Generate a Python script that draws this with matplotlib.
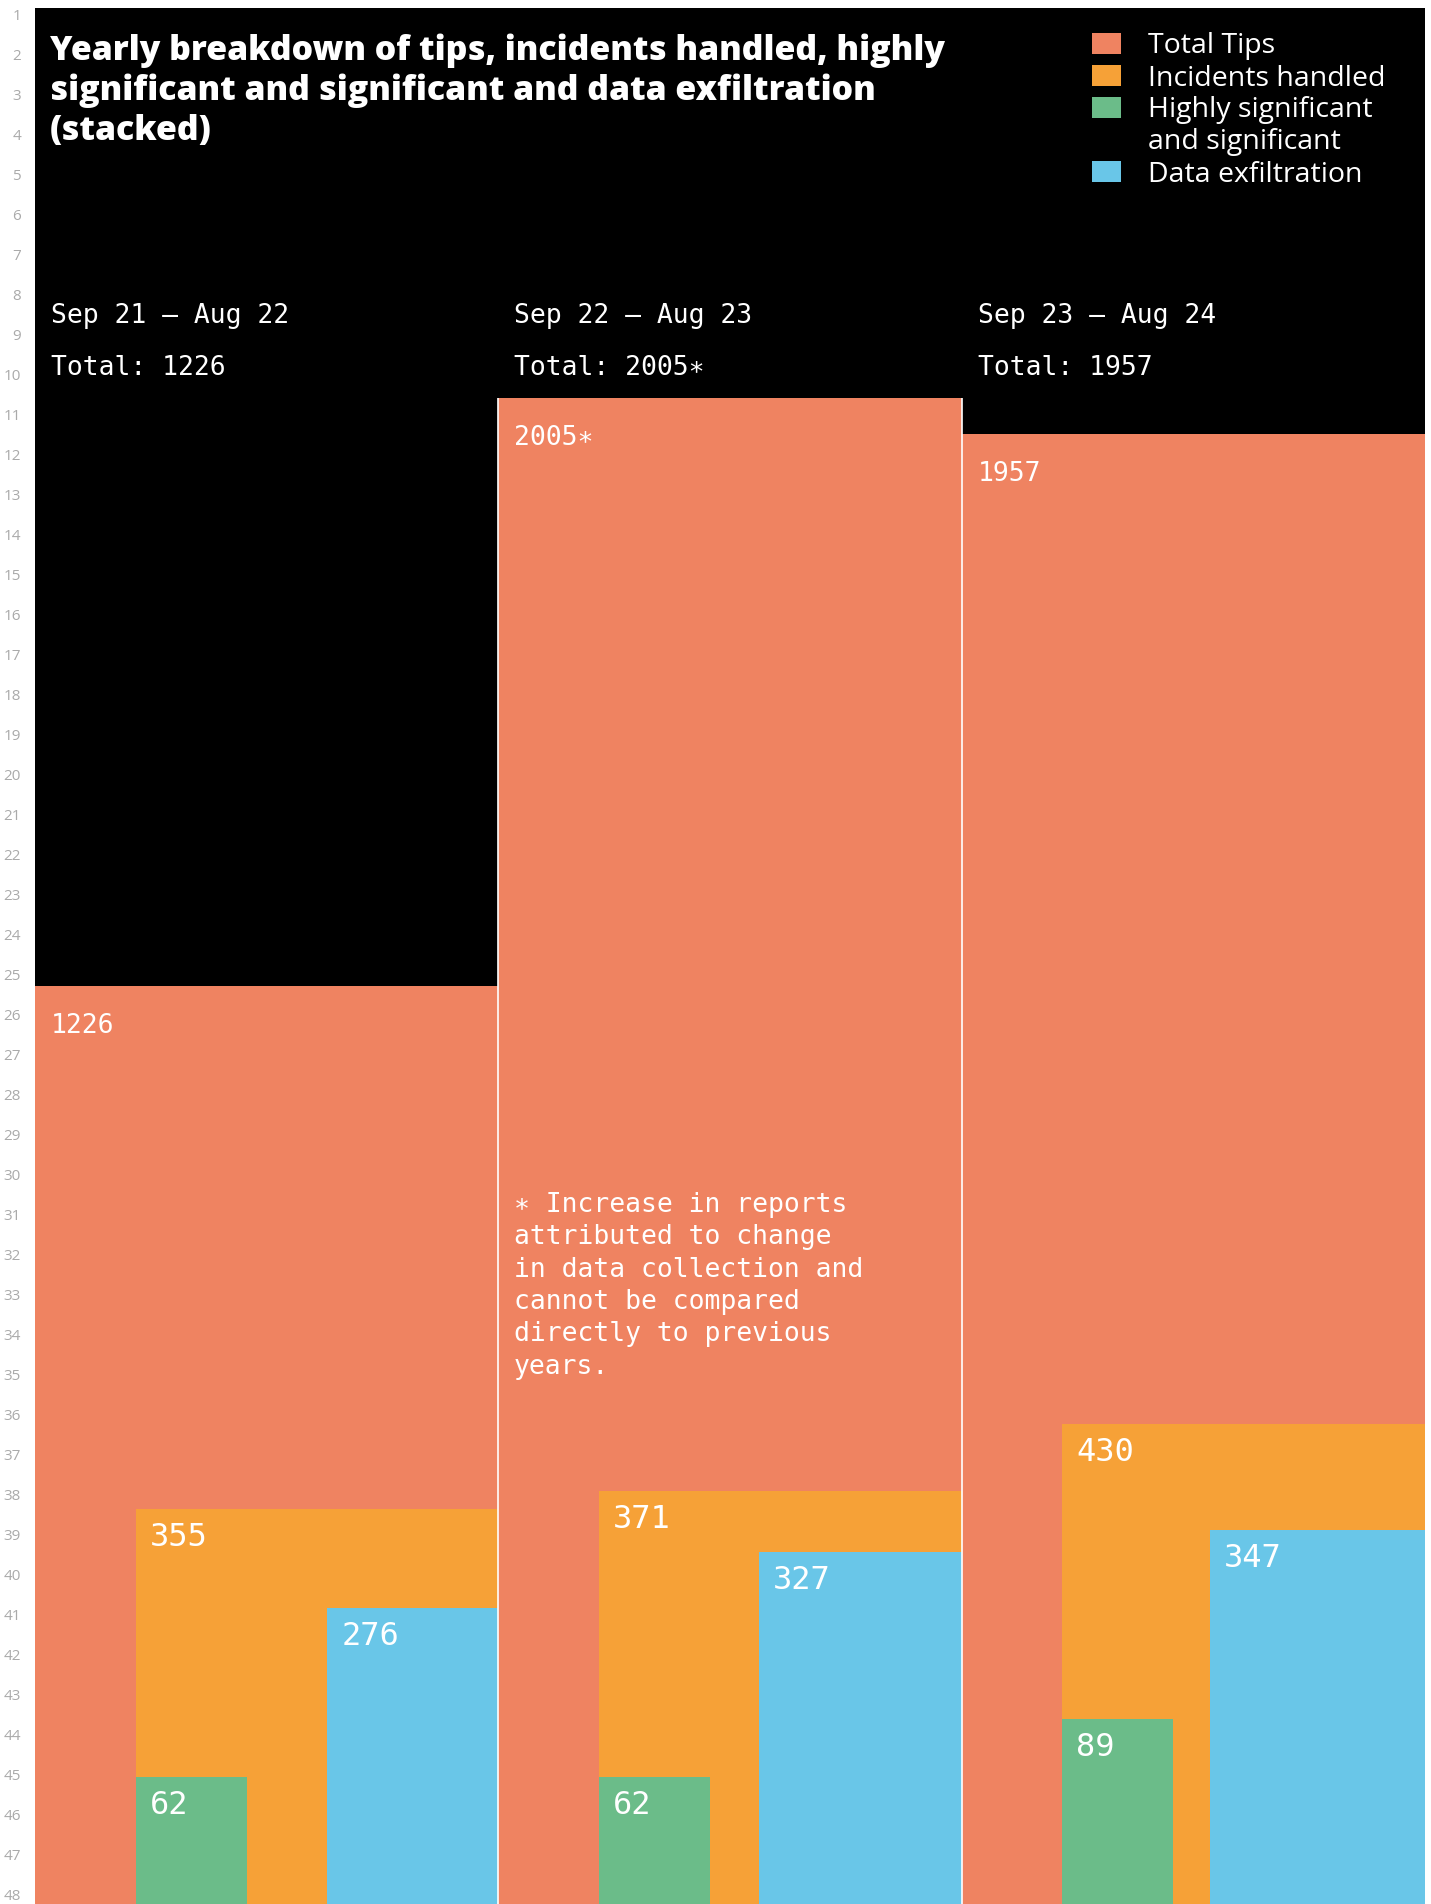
import matplotlib
matplotlib.use('Agg')
import matplotlib.pyplot as plt
from matplotlib.patches import Rectangle

# ---------------- data ----------------
periods = ['Sep 21 – Aug 22', 'Sep 22 – Aug 23', 'Sep 23 – Aug 24']
total_tips = [1226, 2005, 1957]
incidents_handled = [355, 371, 430]
highly_significant = [62, 62, 89]
data_exfiltration = [276, 327, 347]
total_notes = ['', '∗', '']
series_names = ['Total Tips', 'Incidents handled',
                'Highly significant\nand significant', 'Data exfiltration']
title_lines = ['Yearly breakdown of tips, incidents handled, highly',
               'significant and significant and data exfiltration',
               '(stacked)']
footnote_lines = ['∗ Increase in reports', 'attributed to change',
                  'in data collection and', 'cannot be compared',
                  'directly to previous', 'years.']

# ---------------- style ----------------
colors = ['#EF8361', '#F6A137', '#6BBC89', '#69C6E8']
MONO = ['DejaVu Sans Mono', 'DejaVu Sans']
SANS = ['Open Sans', 'DejaVu Sans']

W, H, DPI = 1431, 1904, 100
PX2PT = 72 / DPI

PLOT_L, PLOT_R, PLOT_T, PLOT_B = 35, 1425, 8, 1904
BASE = 1910                     # pixel row of the value 0 (just below the crop)
PANEL_PX = (PLOT_R - PLOT_L) / 3

TOTAL_PX = 0.754                # vertical px per unit, per series
INC_PX = 1.13
HS_PX = 2.15
EXF_PX = 1.0954
EXF_W_PX = 0.6193               # horizontal px per unit for data exfiltration
INC_OFFSET = 100.6 / PANEL_PX   # left inset of incidents block within a panel
HS_WIDTH = 111 / PANEL_PX


def fx(px):
    return px / W


def fy(py):
    return 1 - py / H


fig = plt.figure(figsize=(W / DPI, H / DPI), dpi=DPI, facecolor='white')
rect = [fx(PLOT_L), fy(PLOT_B), (PLOT_R - PLOT_L) / W, (PLOT_B - PLOT_T) / H]


def make_axes(px_per_unit, name, background=False):
    ax = fig.add_axes(rect, label=name)
    ax.set_xlim(0, 3)
    ax.set_ylim((BASE - PLOT_B) / px_per_unit, (BASE - PLOT_T) / px_per_unit)
    if background:
        ax.set_facecolor('black')
        ax.set_xticks([])
        ax.set_yticks([])
        for s in ax.spines.values():
            s.set_visible(False)
    else:
        ax.set_axis_off()
    return ax


def label(ax, x, v, text, dx, dy, size):
    ax.annotate(text, xy=(x, v), xytext=(dx * PX2PT, -dy * PX2PT),
                textcoords='offset points', ha='left', va='baseline',
                color='white', fontsize=size, family=MONO,
                annotation_clip=False)


n = len(periods)
xs = list(range(n))

# total tips
ax_t = make_axes(TOTAL_PX, 'total', background=True)
ax_t.bar(xs, total_tips, width=1, align='edge', color=colors[0], linewidth=0)
for i, v in enumerate(total_tips):
    label(ax_t, i, v, f'{v}{total_notes[i]}', 16, 47, 19)

# incidents handled
ax_i = make_axes(INC_PX, 'incidents')
inc_left = [i + INC_OFFSET for i in xs]
ax_i.bar(inc_left, incidents_handled, width=1 - INC_OFFSET, align='edge',
         color=colors[1], linewidth=0)
for x, v in zip(inc_left, incidents_handled):
    label(ax_i, x, v, f'{v}', 14, 37, 23)

# highly significant and significant
ax_h = make_axes(HS_PX, 'highly')
ax_h.bar(inc_left, highly_significant, width=HS_WIDTH, align='edge',
         color=colors[2], linewidth=0)
for x, v in zip(inc_left, highly_significant):
    label(ax_h, x, v, f'{v}', 14, 37, 23)

# data exfiltration (width and height both scale with the value)
ax_e = make_axes(EXF_PX, 'exfil')
exf_w = [v * EXF_W_PX / PANEL_PX for v in data_exfiltration]
exf_left = [i + 1 - w for i, w in zip(xs, exf_w)]
ax_e.bar(exf_left, data_exfiltration, width=exf_w, align='edge',
         color=colors[3], linewidth=0)
for x, v in zip(exf_left, data_exfiltration):
    label(ax_e, x, v, f'{v}', 14, 37, 23)

# panel separators on top
ax_s = make_axes(TOTAL_PX, 'sep')
for i in range(1, n):
    ax_s.vlines(i, 0, max(total_tips[i - 1], total_tips[i]),
                color='white', linewidth=1.2)

# period headers
for i in xs:
    ax_t.annotate(periods[i], xy=(i, fy(323)), xycoords=('data', 'figure fraction'),
                  xytext=(16 * PX2PT, 0), textcoords='offset points',
                  va='baseline', ha='left', color='white', fontsize=19, family=MONO)
    ax_t.annotate(f'Total: {total_tips[i]}{total_notes[i]}', xy=(i, fy(375)),
                  xycoords=('data', 'figure fraction'),
                  xytext=(16 * PX2PT, 0), textcoords='offset points',
                  va='baseline', ha='left', color='white', fontsize=19, family=MONO)

# footnote
for k, line in enumerate(footnote_lines):
    fig.text(fx(514), fy(1212 + 32.3 * k), line, color='white', fontsize=19,
             family=MONO, ha='left', va='baseline')

# title
for k, line in enumerate(title_lines):
    fig.text(fx(50), fy(60 + 40 * k), line, color='white', fontsize=24.4,
             family=SANS, fontweight=800, ha='left', va='baseline')

# legend
row = 0
for name, c in zip(series_names, colors):
    cy = 43.5 + 32 * row
    fig.patches.append(Rectangle((fx(1092), fy(cy + 10.5)), 29 / W, 21 / H,
                                 transform=fig.transFigure, facecolor=c,
                                 edgecolor='none'))
    for j, part in enumerate(name.split('\n')):
        fig.text(fx(1148), fy(cy + 10 + 32 * j), part, color='white',
                 fontsize=20.5, family=SANS, ha='left', va='baseline')
    row += len(name.split('\n'))

# row numbers of the layout grid
for r in range(1, 49):
    fig.text(fx(21), fy(20 + 40 * (r - 1)), str(r), color='#aaaaaa',
             fontsize=11, family=SANS, ha='right', va='baseline')

fig.savefig('out.png', dpi=DPI, facecolor='white')
